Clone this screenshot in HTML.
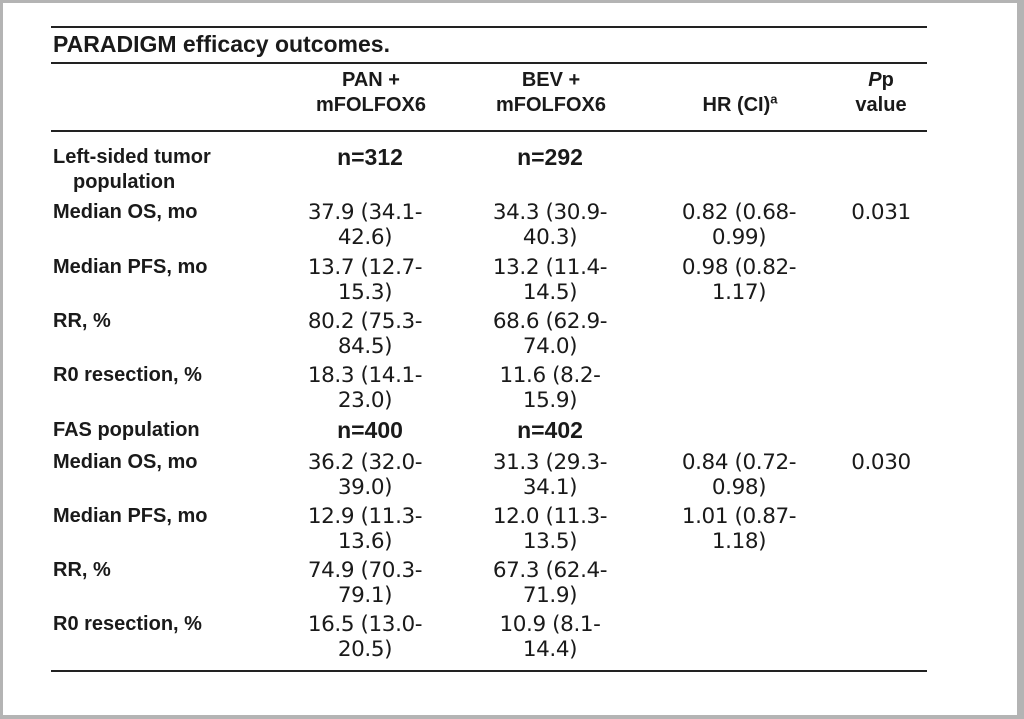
<!DOCTYPE html>
<html><head><meta charset="utf-8"><style>
html,body{margin:0;padding:0}
body{width:1024px;height:719px;background:#b4b4b4;position:relative;overflow:hidden}
#w{position:absolute;left:3px;top:3px;width:1014px;height:712px;background:#fff}
.l{position:absolute;left:51px;width:876px;height:2px;background:#222}
.t{position:absolute;white-space:nowrap;line-height:25px;color:#1a1a1a}
.d{font-family:"DejaVu Sans",sans-serif;font-size:21.5px;letter-spacing:-0.4px;text-align:center;width:200px}
.b{font-family:"Liberation Sans",sans-serif;font-weight:bold;font-size:20px}
.c{text-align:center;width:200px}
.n{font-size:23px}
</style></head><body><div id="w"></div>
<div class="l" style="top:26px"></div>
<div class="l" style="top:62px"></div>
<div class="l" style="top:130px"></div>
<div class="l" style="top:670px"></div>
<div class="t" style="left:53px;top:32px;font-family:'Liberation Sans',sans-serif;font-weight:bold;font-size:23px">PARADIGM efficacy outcomes.</div>
<div class="t b c" style="left:271px;top:68px">PAN +<br>mFOLFOX6</div>
<div class="t b c" style="left:451px;top:68px">BEV +<br>mFOLFOX6</div>
<div class="t b c" style="left:640px;top:93px">HR (CI)<sup style="font-size:13px;line-height:0">a</sup></div>
<div class="t b c" style="left:781px;top:68px"><i>P</i>p<br>value</div>

<div class="t b" style="left:53px;top:145px">Left-sided tumor</div>
<div class="t b" style="left:73px;top:170px">population</div>
<div class="t b c n" style="left:270px;top:145px">n=312</div>
<div class="t b c n" style="left:450px;top:145px">n=292</div>

<div class="t b" style="left:53px;top:200px">Median OS, mo</div>
<div class="t d" style="left:265px;top:200px">37.9 (34.1-<br>42.6)</div>
<div class="t d" style="left:450px;top:200px">34.3 (30.9-<br>40.3)</div>
<div class="t d" style="left:639px;top:200px">0.82 (0.68-<br>0.99)</div>
<div class="t d" style="left:781px;top:200px">0.031</div>

<div class="t b" style="left:53px;top:255px">Median PFS, mo</div>
<div class="t d" style="left:265px;top:255px">13.7 (12.7-<br>15.3)</div>
<div class="t d" style="left:450px;top:255px">13.2 (11.4-<br>14.5)</div>
<div class="t d" style="left:639px;top:255px">0.98 (0.82-<br>1.17)</div>

<div class="t b" style="left:53px;top:309px">RR, %</div>
<div class="t d" style="left:265px;top:309px">80.2 (75.3-<br>84.5)</div>
<div class="t d" style="left:450px;top:309px">68.6 (62.9-<br>74.0)</div>

<div class="t b" style="left:53px;top:363px">R0 resection, %</div>
<div class="t d" style="left:265px;top:363px">18.3 (14.1-<br>23.0)</div>
<div class="t d" style="left:450px;top:363px">11.6 (8.2-<br>15.9)</div>

<div class="t b" style="left:53px;top:418px">FAS population</div>
<div class="t b c n" style="left:270px;top:418px">n=400</div>
<div class="t b c n" style="left:450px;top:418px">n=402</div>

<div class="t b" style="left:53px;top:450px">Median OS, mo</div>
<div class="t d" style="left:265px;top:450px">36.2 (32.0-<br>39.0)</div>
<div class="t d" style="left:450px;top:450px">31.3 (29.3-<br>34.1)</div>
<div class="t d" style="left:639px;top:450px">0.84 (0.72-<br>0.98)</div>
<div class="t d" style="left:781px;top:450px">0.030</div>

<div class="t b" style="left:53px;top:504px">Median PFS, mo</div>
<div class="t d" style="left:265px;top:504px">12.9 (11.3-<br>13.6)</div>
<div class="t d" style="left:450px;top:504px">12.0 (11.3-<br>13.5)</div>
<div class="t d" style="left:639px;top:504px">1.01 (0.87-<br>1.18)</div>

<div class="t b" style="left:53px;top:558px">RR, %</div>
<div class="t d" style="left:265px;top:558px">74.9 (70.3-<br>79.1)</div>
<div class="t d" style="left:450px;top:558px">67.3 (62.4-<br>71.9)</div>

<div class="t b" style="left:53px;top:612px">R0 resection, %</div>
<div class="t d" style="left:265px;top:612px">16.5 (13.0-<br>20.5)</div>
<div class="t d" style="left:450px;top:612px">10.9 (8.1-<br>14.4)</div>
</body></html>
